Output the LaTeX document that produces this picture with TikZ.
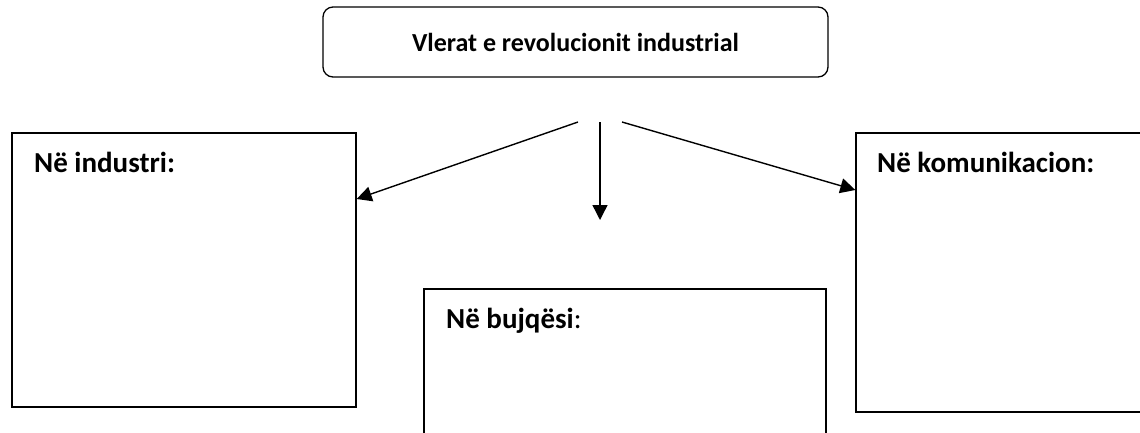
\documentclass[tikz,border=0pt]{standalone}
\usepackage{fontspec}
\setmainfont{Carlito}
\usetikzlibrary{arrows.meta}
\begin{document}
\begin{tikzpicture}[x=1pt,y=-1pt,
  titlebox/.style={draw,line width=1.3pt,rounded corners=10pt,minimum width=505pt,minimum height=70pt,inner sep=0pt},
  panel/.style={draw,line width=1.3pt,inner sep=0pt},
  hdr/.style={anchor=base west,inner sep=0pt,font=\fontsize{29}{32}\selectfont},
  conn/.style={line width=1.4pt,-{Triangle[length=15pt,width=15pt]}}]
\useasboundingbox (0,0) rectangle (1140,432);
\clip (0,0) rectangle (1140,432);
\node[titlebox] (title) at (575.5,42) {};
\node[anchor=base,inner sep=0pt,font=\bfseries\fontsize{26}{30}\selectfont] (ttext) at (575.5,51) {Vlerat e revolucionit industrial};
\node[panel,minimum width=344pt,minimum height=274pt] (ind) at (184,270) {};
\node[panel,minimum width=294pt,minimum height=279pt] (kom) at (1003,272.5) {};
\node[panel,minimum width=402pt,minimum height=161pt] (buj) at (625,369.5) {};
\node[hdr] (lind) at (34,172) {\bfseries Në industri:};
\node[hdr] (lkom) at (877,172) {\bfseries Në komunikacion:};
\node[hdr] (lbuj) at (446,328) {{\bfseries Në bujqësi}:};
\coordinate (s1) at (578,122);
\coordinate (s2) at (600,122);
\coordinate (s3) at (622,122);
\coordinate (e2) at (600,220);
\draw[conn] (s1) -- (ind.east |- 0,199);
\draw[conn] (s2) -- (e2);
\draw[conn] (s3) -- (kom.west |- 0,190);
\end{tikzpicture}
\end{document}
